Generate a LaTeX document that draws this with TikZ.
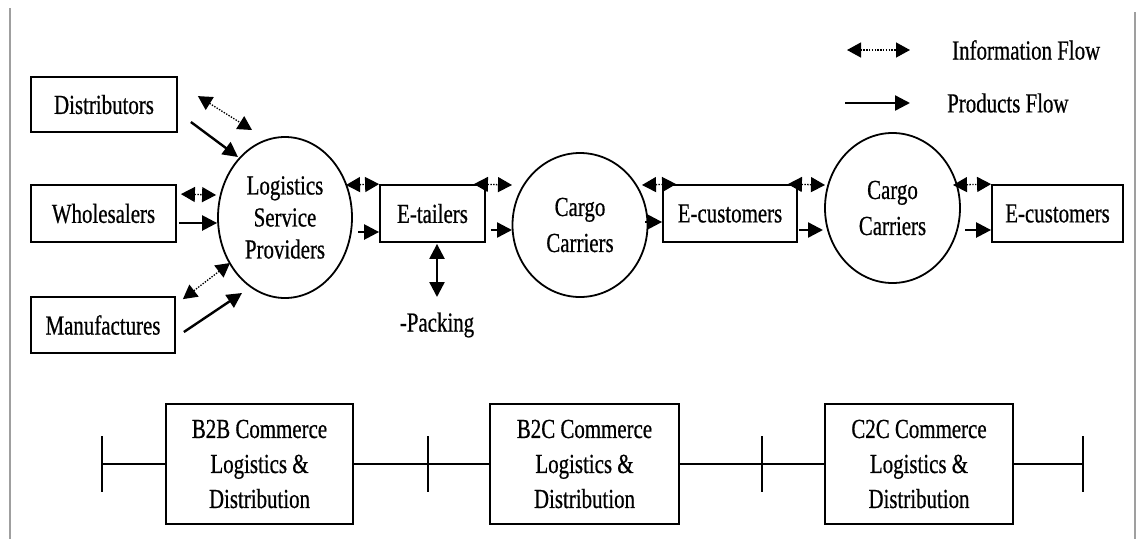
\documentclass[tikz,border=0pt]{standalone}
\usepackage{fontspec}
\setmainfont[FakeStretch=0.76,FakeBold=0.6]{Liberation Serif}
\usetikzlibrary{arrows.meta,shapes.geometric}
\begin{document}
\begin{tikzpicture}[x=1pt,y=-1pt,
  every node/.style={font=\fontsize{27.5}{32}\selectfont},
  box/.style={draw, line width=1.8pt, inner sep=0pt, align=center},
  oval/.style={draw, ellipse, line width=1.8pt, inner sep=0pt, align=center},
  info/.style={line width=1.3pt, dash pattern=on 1.4pt off 1.4pt,
    {Triangle[length=14pt,width=15pt]}-{Triangle[length=14pt,width=15pt]}},
  prod/.style={line width=2.4pt, -{Triangle[length=15pt,width=15pt]}},
  both/.style={line width=2.4pt, {Triangle[length=15pt,width=15pt]}-{Triangle[length=15pt,width=15pt]}},
  bar/.style={line width=1.8pt},
  tick/.style={inner sep=0pt, minimum width=0pt, minimum height=55pt},
  frame/.style={draw=gray!75, line width=2pt},
]
\useasboundingbox (0,0) rectangle (1140,539);
% side frame lines
\draw[frame] (10,8) -- (10,539);
\draw[frame] (1135,12) -- (1135,539);

% nodes
\node[box, minimum width=146pt, minimum height=55pt] (dist) at (104,104.5) {Distributors};
\node[box, minimum width=145pt, minimum height=57pt] (whol) at (103.5,213.5) {Wholesalers};
\node[box, minimum width=144pt, minimum height=56pt] (manu) at (103,325) {Manufactures};
\node[oval, minimum width=134pt, minimum height=161pt] (lsp) at (285,217.5) {Logistics\\Service\\Providers};
\node[box, minimum width=105pt, minimum height=57pt] (etail) at (432.5,213.5) {E-tailers};
\node (pack) at (437,325) {-Packing};
\node[oval, minimum width=135pt, minimum height=144pt, font=\fontsize{27.5}{36}\selectfont] (cc1) at (580,225) {Cargo\\Carriers};
\node[box, minimum width=134pt, minimum height=57pt] (ecus1) at (730,213.5) {E-customers};
\node[oval, minimum width=135pt, minimum height=150pt, font=\fontsize{27.5}{36}\selectfont] (cc2) at (892.5,208) {Cargo\\Carriers};
\node[box, minimum width=131pt, minimum height=57pt] (ecus2) at (1057.5,213.5) {E-customers};

% legend
\coordinate (li1) at (847,50);
\coordinate (li2) at (910,50);
\coordinate (lp1) at (845,103);
\coordinate (lp2) at (910,103);
\draw[info] (li1) -- (li2);
\draw[prod] (lp1) -- (lp2);
\node[anchor=west, inner sep=0pt] (lit) at (952,50) {Information Flow};
\node[anchor=west, inner sep=0pt] (lpt) at (947,103) {Products Flow};

% flows into LSP
\draw[info] ([shift={(20,20)}]dist.north east) -- ([shift={(-33,-87.5)}]lsp.center);
\draw[prod] ([shift={(13,17.5)}]dist.east) -- ([shift={(-47,-60.5)}]lsp.center);
\draw[info] ([shift={(4,10)}]whol.north east) -- ([shift={(-1,-22.5)}]lsp.west);
\draw[prod] ([shift={(2,9.5)}]whol.east) -- ([shift={(0,5.5)}]lsp.west);
\draw[info] ([shift={(7,3)}]manu.north east) -- ([shift={(-55,45.5)}]lsp.center);
\draw[prod] ([shift={(8,7)}]manu.east) -- ([shift={(-43,75.5)}]lsp.center);

% LSP -> E-tailers
\draw[info] ([shift={(61,-32.5)}]lsp.center) -- (etail.north west);
\draw[prod] ([shift={(73,14.5)}]lsp.center) -- ([shift={(0,18.5)}]etail.west);
% E-tailers -> Cargo 1
\draw[info] ([shift={(-12,0)}]etail.north east) -- ([shift={(-68,-40)}]cc1.center);
\draw[prod] ([shift={(5,16.5)}]etail.east) -- ([shift={(-68,5)}]cc1.center);
% packing
\draw[both] ([shift={(4.5,1)}]etail.south) -- ([shift={(0,-28)}]pack.center);
% Cargo 1 -> E-customers
\draw[info] ([shift={(62,-40)}]cc1.center) -- ([shift={(14,0)}]ecus1.north west);
\draw[prod] ([shift={(65,-3)}]cc1.center) -- ([shift={(0,8.5)}]ecus1.west);
% E-customers -> Cargo 2
\draw[info] ([shift={(-10,0)}]ecus1.north east) -- ([shift={(-67.5,-23)}]cc2.center);
\draw[prod] ([shift={(1,16.5)}]ecus1.east) -- ([shift={(-69.5,22)}]cc2.center);
% Cargo 2 -> E-customers
\draw[info] ([shift={(60.5,-23)}]cc2.center) -- (ecus2.north west);
\draw[prod] ([shift={(72.5,22)}]cc2.center) -- ([shift={(0,16.5)}]ecus2.west);

% bottom timeline
\node[box, minimum width=187pt, minimum height=120pt, font=\fontsize{27.5}{35}\selectfont] (b2b) at (259.5,464) {B2B Commerce\\Logistics \&\\Distribution};
\node[box, minimum width=189pt, minimum height=120pt, font=\fontsize{27.5}{35}\selectfont] (b2c) at (584.5,464) {B2C Commerce\\Logistics \&\\Distribution};
\node[box, minimum width=188pt, minimum height=120pt, font=\fontsize{27.5}{35}\selectfont] (c2c) at (919,464) {C2C Commerce\\Logistics \&\\Distribution};
\node[tick] (t1) at (102,464) {};
\node[tick] (t2) at (428,464) {};
\node[tick] (t3) at (762,464) {};
\node[tick] (t4) at (1083,464) {};
\foreach \t in {t1,t2,t3,t4} \draw[bar] (\t.north) -- (\t.south);
\draw[bar] (t1) -- (b2b);
\draw[bar] (b2b) -- (t2);
\draw[bar] (t2) -- (b2c);
\draw[bar] (b2c) -- (t3);
\draw[bar] (t3) -- (c2c);
\draw[bar] (c2c) -- (t4);
\end{tikzpicture}
\end{document}
